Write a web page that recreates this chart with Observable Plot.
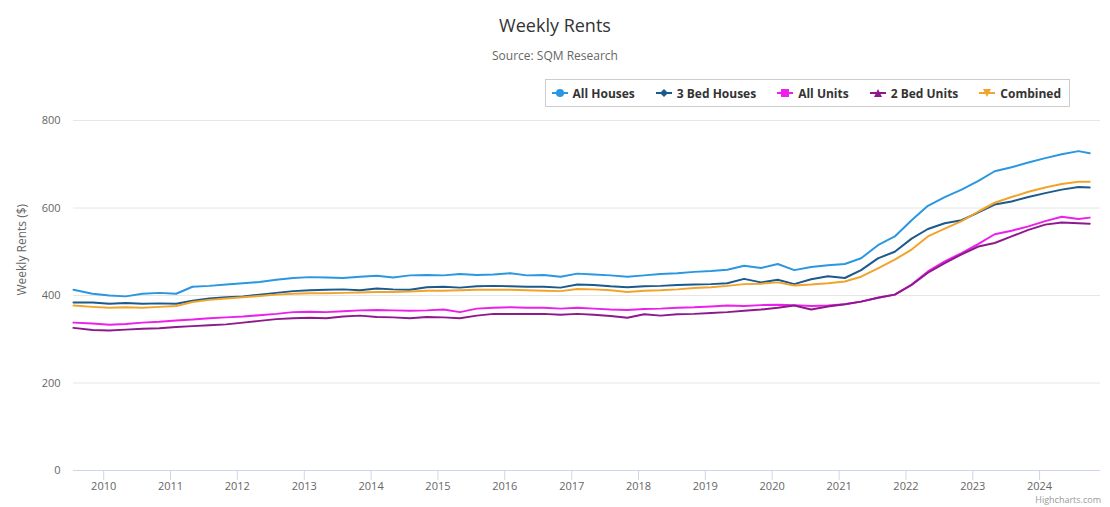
<!DOCTYPE html>
<html><head><meta charset="utf-8">
<script src="https://cdn.jsdelivr.net/npm/d3@7"></script>
<script src="https://cdn.jsdelivr.net/npm/@observablehq/plot@0.6"></script>
<style>
body{margin:0;background:#fff;font-family:"Open Sans",sans-serif;}
#wrap{position:relative;width:1110px;height:507px;overflow:hidden}
#header{position:relative;width:1110px;height:110px}
#title{position:absolute;top:13px;left:0;width:1110px;text-align:center;font-size:18px;color:#333}
#subtitle{position:absolute;top:47px;left:0;width:1110px;text-align:center;font-size:12px;color:#666}
#legend{position:absolute;top:79px;right:40px;height:26px;border:1px solid #ccc;display:flex;align-items:center;padding:0 8px 0 6px;gap:21px;font-size:12px;font-weight:bold;color:#333}
.item{display:flex;align-items:center;gap:5px}
#credit{position:absolute;right:9px;bottom:1px;font-size:9px;color:#999}
</style></head>
<body><div id="wrap"><div id="header"><div id="title">Weekly Rents</div><div id="subtitle">Source: SQM Research</div><div id="legend"></div></div><div id="chart"></div><div id="credit">Highcharts.com</div></div>
<script>
const dates = ["2009-07-20","2009-11","2010-02","2010-05","2010-08","2010-11","2011-02","2011-05","2011-08","2011-11","2012-02","2012-05","2012-08","2012-11","2013-02","2013-05","2013-08","2013-11","2014-02","2014-05","2014-08","2014-11","2015-02","2015-05","2015-08","2015-11","2016-02","2016-05","2016-08","2016-11","2017-02","2017-05","2017-08","2017-11","2018-02","2018-05","2018-08","2018-11","2019-02","2019-05","2019-08","2019-11","2020-02","2020-05","2020-08","2020-11","2021-02","2021-05","2021-08","2021-11","2022-02","2022-05","2022-08","2022-11","2023-02","2023-05","2023-08","2023-11","2024-02","2024-05","2024-08","2024-10"];
const allHouses = [413,404,400,398,404,406,404,420,422,425,428,431,436,440,442,441,440,443,445,441,446,447,446,449,447,448,451,446,447,443,450,448,446,443,446,449,451,454,456,459,468,463,472,458,465,469,472,485,515,535,572,605,625,642,662,684,693,704,714,723,730,725];
const bed3Houses = [384,384,381,383,381,382,381,388,393,396,398,402,406,410,412,413,414,412,416,414,413,419,420,418,421,422,421,420,420,418,425,424,421,419,421,422,424,425,426,428,438,430,436,426,437,444,440,458,485,500,530,552,565,572,590,608,615,625,634,642,648,647];
const allUnits = [338,336,333,335,338,340,343,345,348,350,352,355,358,362,363,362,364,366,367,366,365,366,368,362,370,372,373,372,372,370,372,370,368,367,369,370,372,373,375,377,376,378,379,378,376,377,380,386,395,402,425,455,478,497,518,540,548,558,570,580,575,578];
const bed2Units = [326,321,320,322,324,325,328,330,332,334,338,342,346,348,349,348,352,354,351,350,348,351,350,348,354,358,358,358,358,356,358,356,353,349,357,354,357,358,360,362,365,368,372,377,368,375,380,386,395,402,424,452,474,494,512,520,535,550,562,567,565,564];
const combined = [377,374,372,373,372,374,376,385,390,393,396,399,402,404,405,405,406,407,408,408,409,411,411,412,413,413,413,412,411,410,415,414,412,408,411,412,414,417,419,422,426,427,430,423,425,428,432,443,462,482,505,535,553,570,592,612,625,637,647,655,660,660];

const seriesNames = ["All Houses","3 Bed Houses","All Units","2 Bed Units","Combined"];
const seriesValues = [allHouses, bed3Houses, allUnits, bed2Units, combined];
const seriesColors = ["#2a97e0","#1b5a8c","#ec1fec","#8c1a8c","#f2a42a"];
const seriesSymbols = ["circle","diamond2","square","triangle","triangle-down"];
const yTicks = [0,200,400,600,800];
const tickYears = [2010,2011,2012,2013,2014,2015,2016,2017,2018,2019,2020,2021,2022,2023,2024];

const rows = [];
seriesNames.forEach((name,i)=>{
  dates.forEach((d,j)=>rows.push({series:name, date:new Date(d), value:seriesValues[i][j]}));
});
const xTicks = tickYears.map(y=>new Date(Date.UTC(y,0,1)));

// legend
const legend = document.getElementById("legend");
const symPaths = {
  "circle":'<circle cx="8" cy="6" r="4"/>',
  "diamond2":'<path d="M8 2 L12 6 L8 10 L4 6 Z"/>',
  "square":'<rect x="4" y="2" width="8" height="8"/>',
  "triangle":'<path d="M8 2 L12 10 L4 10 Z"/>',
  "triangle-down":'<path d="M4 2 L12 2 L8 10 Z"/>'
};
seriesNames.forEach((name,i)=>{
  const it = document.createElement("div");
  it.className="item";
  it.innerHTML = `<svg width="16" height="12"><line x1="0" x2="16" y1="6" y2="6" stroke="${seriesColors[i]}" stroke-width="2"/><g fill="${seriesColors[i]}">${symPaths[seriesSymbols[i]]}</g></svg><span>${name}</span>`;
  legend.appendChild(it);
});

const chart = Plot.plot({
  width:1110, height:397, marginTop:10, marginBottom:37, marginLeft:73, marginRight:10,
  style:{fontFamily:"Open Sans", fontSize:"11px", color:"#666", background:"#fff"},
  x:{type:"utc", domain:[new Date("2009-07-20"), new Date("2024-11-29")]},
  y:{domain:[0,800]},
  color:{domain:seriesNames, range:seriesColors},
  marks:[
    Plot.gridY(yTicks,{stroke:"#e6e6e6", strokeOpacity:1}),
    Plot.axisY(yTicks,{tickSize:0, tickPadding:13, label:null, fill:"#666"}),
    Plot.text(["Weekly Rents ($)"],{frameAnchor:"left", rotate:-90, dx:-51, fontSize:12, fill:"#666"}),
    Plot.ruleY([0],{stroke:"#ccd6eb"}),
    Plot.axisX(xTicks,{tickSize:10, tickPadding:2, stroke:"#ccd6eb", strokeOpacity:1, fill:"#666", tickFormat:"%Y", label:null}),
    Plot.lineY(rows,{x:"date", y:"value", stroke:"series", strokeWidth:2, curve:"linear"})
  ]
});
document.getElementById("chart").appendChild(chart);
</script>
</body></html>
